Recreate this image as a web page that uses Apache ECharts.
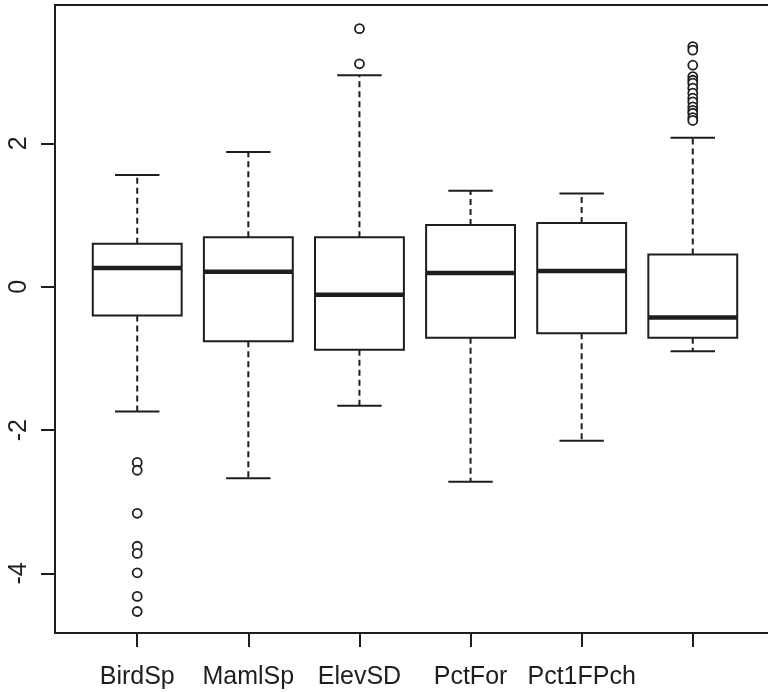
<!DOCTYPE html>
<html>
<head>
<meta charset="utf-8">
<script src="https://cdn.jsdelivr.net/npm/echarts@6/dist/echarts.min.js"></script>
<style>
  html, body { margin: 0; padding: 0; background: #fff; }
  #chart { width: 768px; height: 692px; }
</style>
</head>
<body>
<div id="chart"></div>
<script>
// ---- data ----
const categories   = ['BirdSp', 'MamlSp', 'ElevSD', 'PctFor', 'Pct1FPch', ''];
const lowerWhisker = [-1.74, -2.67, -1.66, -2.72, -2.15, -0.90];
const q1           = [-0.40, -0.76, -0.88, -0.71, -0.65, -0.71];
const median       = [ 0.26,  0.21, -0.11,  0.19,  0.22, -0.43];
const q3           = [ 0.60,  0.69,  0.69,  0.86,  0.89,  0.45];
const upperWhisker = [ 1.56,  1.88,  2.95,  1.34,  1.30,  2.08];
const outliers = [
  [-2.45, -2.56, -3.16, -3.62, -3.72, -3.99, -4.32, -4.53],
  [],
  [3.60, 3.11],
  [],
  [],
  [3.35, 3.30, 3.09, 2.93, 2.88, 2.84, 2.77, 2.70, 2.63, 2.58, 2.51, 2.46, 2.42, 2.36, 2.32]
];
const yTicks = [-4, -2, 0, 2];
const xTicks = [1, 2, 3, 4, 5, 6];

// ---- chart ----
const ink = '#1e1e1e';
const font = 'Liberation Sans, Arial, Helvetica, sans-serif';

const boxData = categories.map((c, i) =>
  [i + 1, lowerWhisker[i], q1[i], median[i], q3[i], upperWhisker[i]]);
const outlierData = [];
outliers.forEach((arr, i) => arr.forEach(v => outlierData.push([i + 1, v])));

function renderBox(params, api) {
  const x = api.value(0);
  const lo = api.value(1), b1 = api.value(2), md = api.value(3), b3 = api.value(4), hi = api.value(5);
  const half = 0.4, staple = 0.2;
  const p = (xx, yy) => api.coord([xx, yy]);
  const tl = p(x - half, b3), br = p(x + half, b1);
  const line = (a, b, w, dash) => ({
    type: 'line',
    shape: { x1: a[0], y1: a[1], x2: b[0], y2: b[1] },
    style: { stroke: ink, lineWidth: w, lineDash: dash || null, lineCap: 'butt' }
  });
  return {
    type: 'group',
    children: [
      line(p(x, b3), p(x, hi), 2, [6, 4]),
      line(p(x, b1), p(x, lo), 2, [6, 4]),
      line(p(x - staple, hi), p(x + staple, hi), 2),
      line(p(x - staple, lo), p(x + staple, lo), 2),
      {
        type: 'rect',
        shape: { x: tl[0], y: tl[1], width: br[0] - tl[0], height: br[1] - tl[1] },
        style: { fill: '#fff', stroke: ink, lineWidth: 2 }
      },
      line(p(x - half, md), p(x + half, md), 4.5)
    ]
  };
}

const chart = echarts.init(document.getElementById('chart'), null, { renderer: 'canvas' });
chart.setOption({
  animation: false,
  backgroundColor: '#fff',
  grid: { left: 55, top: 5, right: 0, bottom: 59, containLabel: false },
  xAxis: [{
    type: 'value', min: 0.26, max: 6.677, position: 'bottom',
    axisLine: { show: true, onZero: false, lineStyle: { color: ink, width: 2 } },
    axisTick: { show: true, length: 14, inside: false, customValues: xTicks, lineStyle: { color: ink, width: 2 } },
    axisLabel: {
      show: true, customValues: xTicks, margin: 32,
      formatter: v => categories[Math.round(v) - 1],
      color: ink, fontSize: 25, fontFamily: font
    },
    splitLine: { show: false }
  }, {
    type: 'value', min: 0.26, max: 6.677, position: 'top',
    axisLine: { show: true, onZero: false, lineStyle: { color: ink, width: 2 } },
    axisTick: { show: false }, axisLabel: { show: false }, splitLine: { show: false }
  }],
  yAxis: [{
    type: 'value', min: -4.83, max: 3.93, position: 'left',
    axisLine: { show: true, onZero: false, lineStyle: { color: ink, width: 2 } },
    axisTick: { show: true, length: 14, inside: false, customValues: yTicks, lineStyle: { color: ink, width: 2 } },
    axisLabel: {
      show: true, customValues: yTicks, rotate: 90, margin: 23,
      color: ink, fontSize: 25, fontFamily: font
    },
    splitLine: { show: false }
  }],
  series: [{
    type: 'custom',
    xAxisIndex: 0, yAxisIndex: 0,
    renderItem: renderBox,
    encode: { x: 0, y: [1, 2, 3, 4, 5] },
    data: boxData,
    clip: false,
    silent: true
  }, {
    type: 'scatter',
    xAxisIndex: 0, yAxisIndex: 0,
    data: outlierData,
    symbol: 'circle',
    symbolSize: 9,
    itemStyle: { color: '#fff', borderColor: ink, borderWidth: 1.8, opacity: 1 },
    silent: true
  }]
});
</script>
</body>
</html>
